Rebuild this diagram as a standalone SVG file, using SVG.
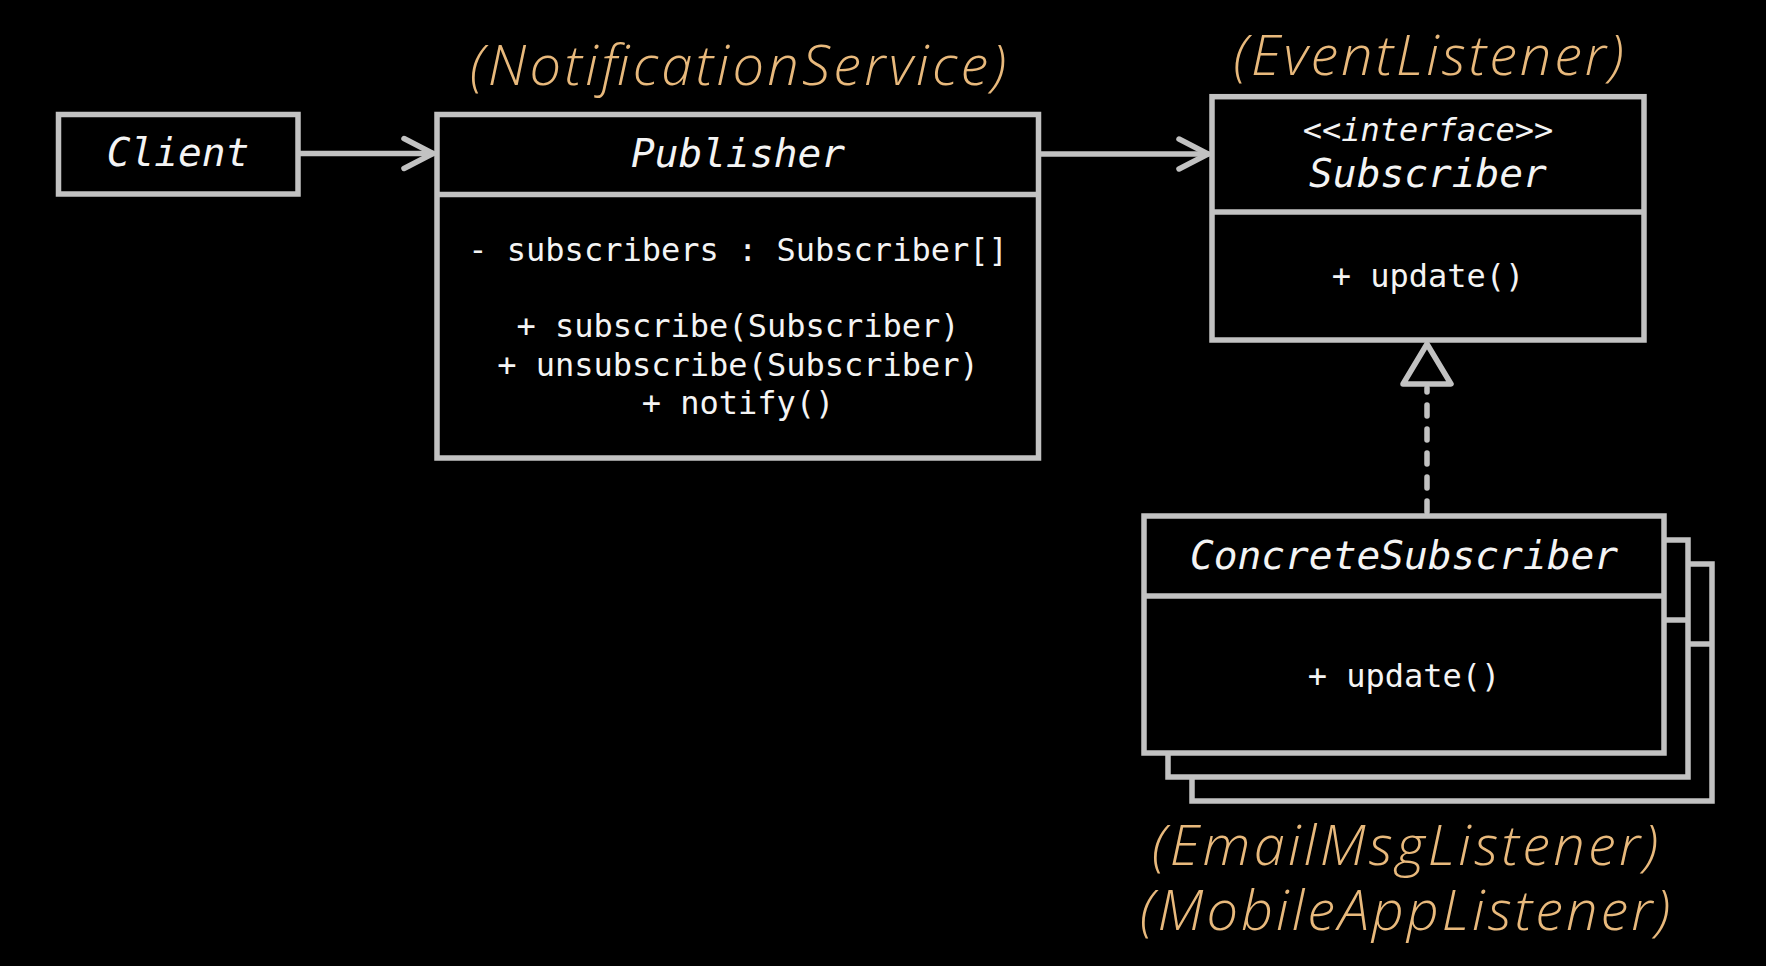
<svg xmlns="http://www.w3.org/2000/svg" width="1766" height="966" viewBox="0 0 1766 966">
  <style>
    .box { fill: #000000; stroke: #c2c2c2; stroke-width: 5.5; }
    .div { stroke: #c2c2c2; stroke-width: 5.5; fill: none; }
    .conn { stroke: #c2c2c2; stroke-width: 5.5; fill: none; stroke-linecap: round; stroke-linejoin: round; }
    .dash { stroke-dasharray: 11 13; }
    .title { font-family: "DejaVu Sans Mono", "Liberation Mono", monospace; font-style: italic; font-size: 39.5px; fill: #f4f4f4; text-anchor: middle; }
    .body { font-family: "DejaVu Sans Mono", "Liberation Mono", monospace; font-size: 32px; fill: #f4f4f4; text-anchor: middle; }
    .stereo { font-style: italic; }
    .alias { font-family: "Open Sans", Lato, "Noto Sans", sans-serif; font-style: italic; font-weight: 300; font-size: 56px; fill: #e8b97c; text-anchor: middle; }
  </style>
  <defs>
    <marker id="open" markerUnits="userSpaceOnUse" markerWidth="40" markerHeight="40" viewBox="-34 -20 40 40" refX="0" refY="0" orient="auto" overflow="visible">
      <path d="M-29,-15 L0,0 L-29,15" fill="none" stroke="#c2c2c2" stroke-width="5.5" stroke-linecap="round" stroke-linejoin="round"/>
    </marker>
  </defs>
  <rect x="0" y="0" width="1766" height="966" fill="#000000"/>

  <g id="connectors">
    <line class="conn" x1="300" y1="153.5" x2="433" y2="153.5" marker-end="url(#open)"/>
    <line class="conn" x1="1041" y1="154" x2="1208" y2="154" marker-end="url(#open)"/>
    <line class="conn dash" x1="1427" y1="512" x2="1427" y2="388"/>
    <polygon class="conn" points="1427,344 1451,384 1403,384" fill="#000000"/>
  </g>

  <g id="client">
    <rect class="box" x="58.5" y="114.5" width="239.5" height="79.5"/>
    <text class="title" x="178" y="166">Client</text>
  </g>

  <g id="publisher">
    <text class="alias" x="738" y="85" textLength="536">(NotificationService)</text>
    <rect class="box" x="437" y="114.5" width="601.5" height="343.5"/>
    <line class="div" x1="437" y1="194.5" x2="1038.5" y2="194.5"/>
    <text class="title" x="738" y="166.5">Publisher</text>
    <text class="body" x="738" y="260.5">- subscribers : Subscriber[]</text>
    <text class="body" x="738" y="337">+ subscribe(Subscriber)</text>
    <text class="body" x="738" y="375.5">+ unsubscribe(Subscriber)</text>
    <text class="body" x="738" y="413.5">+ notify()</text>
  </g>

  <g id="subscriber">
    <text class="alias" x="1428.5" y="75" textLength="390">(EventListener)</text>
    <rect class="box" x="1212" y="96.7" width="432" height="243.3"/>
    <line class="div" x1="1212" y1="212" x2="1644" y2="212"/>
    <text class="body stereo" x="1428" y="141">&lt;&lt;interface&gt;&gt;</text>
    <text class="title" x="1428" y="186.5">Subscriber</text>
    <text class="body" x="1428" y="287">+ update()</text>
  </g>

  <g id="concrete-subscriber">
    <rect class="box" x="1192" y="564" width="520" height="237"/>
    <line class="div" x1="1664" y1="644" x2="1712" y2="644"/>
    <rect class="box" x="1168" y="540" width="520" height="237"/>
    <line class="div" x1="1664" y1="620" x2="1688" y2="620"/>
    <rect class="box" x="1144" y="516" width="520" height="237"/>
    <line class="div" x1="1144" y1="596" x2="1664" y2="596"/>
    <text class="title" x="1404" y="569">ConcreteSubscriber</text>
    <text class="body" x="1404" y="686.5">+ update()</text>
    <text class="alias" x="1405" y="865" textLength="506">(EmailMsgListener)</text>
    <text class="alias" x="1405" y="930" textLength="530">(MobileAppListener)</text>
  </g>
</svg>
